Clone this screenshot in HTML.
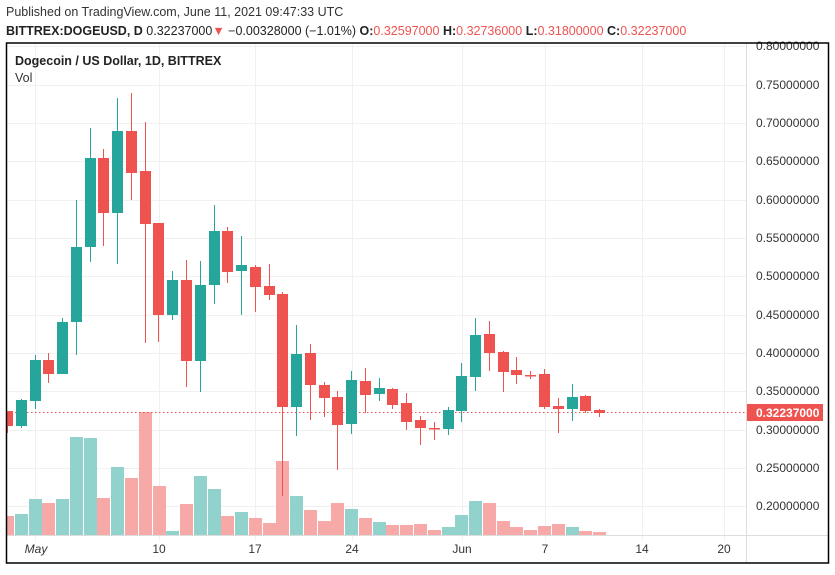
<!DOCTYPE html>
<html><head><meta charset="utf-8"><style>
body{margin:0;background:#fff;width:835px;height:570px;overflow:hidden;font-family:"Liberation Sans",sans-serif}
</style></head><body>
<svg width="835" height="570" xmlns="http://www.w3.org/2000/svg" font-family="Liberation Sans, sans-serif">
<rect width="835" height="570" fill="#fff"/>
<text x="6" y="16" font-size="12.5" fill="#333">Published on TradingView.com, June 11, 2021 09:47:33 UTC</text>
<text x="6" y="35" font-size="12.5" fill="#222"><tspan font-weight="bold">BITTREX:DOGEUSD, D</tspan> 0.32237000<tspan fill="#ef5350">▼</tspan> −0.00328000 (−1.01%) <tspan font-weight="bold">O:</tspan><tspan fill="#ef5350">0.32597000</tspan> <tspan font-weight="bold">H:</tspan><tspan fill="#ef5350">0.32736000</tspan> <tspan font-weight="bold">L:</tspan><tspan fill="#ef5350">0.31800000</tspan> <tspan font-weight="bold">C:</tspan><tspan fill="#ef5350">0.32237000</tspan></text>
<g stroke="#f0f0f0" stroke-width="1">
<line x1="7" x2="746" y1="46.5" y2="46.5"/><line x1="7" x2="746" y1="85.5" y2="85.5"/><line x1="7" x2="746" y1="123.5" y2="123.5"/><line x1="7" x2="746" y1="161.5" y2="161.5"/><line x1="7" x2="746" y1="200.5" y2="200.5"/><line x1="7" x2="746" y1="238.5" y2="238.5"/><line x1="7" x2="746" y1="276.5" y2="276.5"/><line x1="7" x2="746" y1="315.5" y2="315.5"/><line x1="7" x2="746" y1="353.5" y2="353.5"/><line x1="7" x2="746" y1="391.5" y2="391.5"/><line x1="7" x2="746" y1="430.5" y2="430.5"/><line x1="7" x2="746" y1="468.5" y2="468.5"/><line x1="7" x2="746" y1="506.5" y2="506.5"/>
<line x1="35.5" x2="35.5" y1="43" y2="541"/><line x1="159.5" x2="159.5" y1="43" y2="541"/><line x1="255.5" x2="255.5" y1="43" y2="541"/><line x1="352.5" x2="352.5" y1="43" y2="541"/><line x1="462.5" x2="462.5" y1="43" y2="541"/><line x1="545.5" x2="545.5" y1="43" y2="541"/><line x1="642.5" x2="642.5" y1="43" y2="541"/><line x1="724.5" x2="724.5" y1="43" y2="541"/>
</g>
<line x1="746.5" x2="746.5" y1="43" y2="563" stroke="#ddd"/>
<line x1="7" x2="829" y1="535.5" y2="535.5" stroke="#ddd"/>
<!-- volume -->
<g fill="#f7a9a7">
<rect x="7" y="516" width="7" height="19"/><rect x="42" y="503" width="13" height="32"/><rect x="97" y="498" width="13" height="37"/><rect x="125" y="478" width="13" height="57"/><rect x="139" y="412" width="13" height="123"/><rect x="153" y="486" width="13" height="49"/><rect x="180" y="504" width="13" height="31"/><rect x="221" y="516" width="13" height="19"/><rect x="249" y="518" width="13" height="17"/><rect x="263" y="523" width="13" height="12"/><rect x="276" y="461" width="13" height="74"/><rect x="304" y="510" width="13" height="25"/><rect x="318" y="521" width="13" height="14"/><rect x="331" y="503" width="13" height="32"/><rect x="359" y="518" width="13" height="17"/><rect x="386" y="525" width="13" height="10"/><rect x="400" y="525" width="13" height="10"/><rect x="414" y="524" width="13" height="11"/><rect x="428" y="530" width="13" height="5"/><rect x="483" y="503" width="13" height="32"/><rect x="497" y="521" width="13" height="14"/><rect x="510" y="527" width="13" height="8"/><rect x="524" y="530" width="13" height="5"/><rect x="538" y="526" width="13" height="9"/><rect x="552" y="524" width="13" height="11"/><rect x="579" y="531" width="13" height="4"/><rect x="593" y="532" width="13" height="3"/>
</g>
<g fill="#92d2cc">
<rect x="15" y="514" width="13" height="21"/><rect x="29" y="499" width="13" height="36"/><rect x="56" y="499" width="13" height="36"/><rect x="70" y="437" width="13" height="98"/><rect x="84" y="438" width="13" height="97"/><rect x="111" y="467" width="13" height="68"/><rect x="166" y="531" width="13" height="4"/><rect x="194" y="476" width="13" height="59"/><rect x="208" y="489" width="13" height="46"/><rect x="235" y="512" width="13" height="23"/><rect x="290" y="496" width="13" height="39"/><rect x="345" y="509" width="13" height="26"/><rect x="373" y="522" width="13" height="13"/><rect x="442" y="527" width="13" height="8"/><rect x="455" y="515" width="13" height="20"/><rect x="469" y="501" width="13" height="34"/><rect x="566" y="527" width="13" height="8"/>
</g>
<line x1="7" x2="746" y1="412.5" y2="412.5" stroke="#ef5350" stroke-dasharray="1.5,2.5"/>
<!-- red candles -->
<g fill="#ef5350">
<rect x="7" y="411" width="6" height="15"/><rect x="7" y="426" width="1" height="7"/>
<rect x="43" y="360" width="11" height="14"/><rect x="48" y="353" width="1" height="30"/>
<rect x="98" y="158" width="11" height="55"/><rect x="103" y="149" width="1" height="97"/>
<rect x="126" y="131" width="11" height="42"/><rect x="131" y="93" width="1" height="107"/>
<rect x="140" y="171" width="11" height="53"/><rect x="145" y="122" width="1" height="221"/>
<rect x="153" y="223" width="11" height="92"/><rect x="158" y="223" width="1" height="119"/>
<rect x="181" y="280" width="11" height="81"/><rect x="186" y="260" width="1" height="127"/>
<rect x="222" y="231" width="11" height="41"/><rect x="227" y="227" width="1" height="56"/>
<rect x="250" y="267" width="11" height="20"/><rect x="255" y="265" width="1" height="47"/>
<rect x="264" y="286" width="11" height="9"/><rect x="269" y="264" width="1" height="36"/>
<rect x="277" y="294" width="11" height="113"/><rect x="282" y="292" width="1" height="204"/>
<rect x="305" y="353" width="11" height="32"/><rect x="310" y="344" width="1" height="76"/>
<rect x="319" y="385" width="11" height="13"/><rect x="324" y="382" width="1" height="35"/>
<rect x="332" y="397" width="11" height="28"/><rect x="337" y="391" width="1" height="79"/>
<rect x="360" y="381" width="11" height="14"/><rect x="365" y="368" width="1" height="45"/>
<rect x="387" y="389" width="11" height="16"/><rect x="392" y="388" width="1" height="21"/>
<rect x="401" y="403" width="11" height="19"/><rect x="406" y="393" width="1" height="37"/>
<rect x="415" y="420" width="11" height="8"/><rect x="420" y="416" width="1" height="29"/>
<rect x="429" y="428" width="11" height="1.5"/><rect x="434" y="422" width="1" height="18"/>
<rect x="484" y="334" width="11" height="19"/><rect x="489" y="321" width="1" height="50"/>
<rect x="498" y="352" width="11" height="20"/><rect x="503" y="351" width="1" height="41"/>
<rect x="511" y="370" width="11" height="5"/><rect x="516" y="357" width="1" height="27"/>
<rect x="525" y="375" width="11" height="1.5"/><rect x="530" y="371" width="1" height="8"/>
<rect x="539" y="374" width="11" height="33"/><rect x="544" y="369" width="1" height="40"/>
<rect x="553" y="406" width="11" height="3"/><rect x="558" y="398" width="1" height="35"/>
<rect x="580" y="396" width="11" height="15"/><rect x="585" y="395" width="1" height="18"/>
<rect x="594" y="410" width="11" height="3"/><rect x="599" y="409" width="1" height="8"/>
</g>
<g fill="#26a69a">
<rect x="16" y="400" width="11" height="26"/><rect x="21" y="399" width="1" height="29"/>
<rect x="30" y="360" width="11" height="41"/><rect x="35" y="355" width="1" height="54"/>
<rect x="57" y="322" width="11" height="52"/><rect x="62" y="318" width="1" height="56"/>
<rect x="71" y="247" width="11" height="75"/><rect x="76" y="200" width="1" height="155"/>
<rect x="85" y="158" width="11" height="89"/><rect x="90" y="128" width="1" height="134"/>
<rect x="112" y="131" width="11" height="82"/><rect x="117" y="98" width="1" height="166"/>
<rect x="167" y="280" width="11" height="35"/><rect x="172" y="271" width="1" height="49"/>
<rect x="195" y="285" width="11" height="76"/><rect x="200" y="261" width="1" height="131"/>
<rect x="209" y="231" width="11" height="54"/><rect x="214" y="205" width="1" height="99"/>
<rect x="236" y="265" width="11" height="6"/><rect x="241" y="236" width="1" height="79"/>
<rect x="291" y="354" width="11" height="53"/><rect x="296" y="325" width="1" height="111"/>
<rect x="346" y="380" width="11" height="44"/><rect x="351" y="371" width="1" height="63"/>
<rect x="374" y="388" width="11" height="6"/><rect x="379" y="378" width="1" height="23"/>
<rect x="443" y="410" width="11" height="19"/><rect x="448" y="407" width="1" height="28"/>
<rect x="456" y="376" width="11" height="35"/><rect x="461" y="363" width="1" height="59"/>
<rect x="470" y="335" width="11" height="42"/><rect x="475" y="318" width="1" height="73"/>
<rect x="567" y="397" width="11" height="12"/><rect x="572" y="384" width="1" height="37"/>
</g>
<!-- axis labels -->
<g font-size="12" fill="#333">
<text x="756" y="50">0.80000000</text><text x="756" y="89">0.75000000</text><text x="756" y="127">0.70000000</text><text x="756" y="165">0.65000000</text><text x="756" y="204">0.60000000</text><text x="756" y="242">0.55000000</text><text x="756" y="280">0.50000000</text><text x="756" y="319">0.45000000</text><text x="756" y="357">0.40000000</text><text x="756" y="395">0.35000000</text><text x="756" y="434">0.30000000</text><text x="756" y="472">0.25000000</text><text x="756" y="510">0.20000000</text>
</g>
<rect x="747" y="404" width="76" height="17" fill="#ef5350"/>
<text x="756" y="417" font-size="12" fill="#fff" font-weight="bold">0.32237000</text>
<g font-size="12" fill="#333" text-anchor="middle">
<text x="36" y="553" font-style="italic">May</text><text x="159" y="553">10</text><text x="255" y="553">17</text><text x="352" y="553">24</text><text x="462" y="553">Jun</text><text x="545" y="553">7</text><text x="642" y="553">14</text><text x="724" y="553">20</text>
</g>
<text x="15" y="65" font-size="12.5" fill="#222" font-weight="bold">Dogecoin / US Dollar, 1D, BITTREX</text>
<text x="15" y="82" font-size="12.5" fill="#333">Vol</text>
<rect x="6.5" y="43" width="822" height="520" fill="none" stroke="#000" stroke-width="1.5"/>
</svg>
</body></html>
